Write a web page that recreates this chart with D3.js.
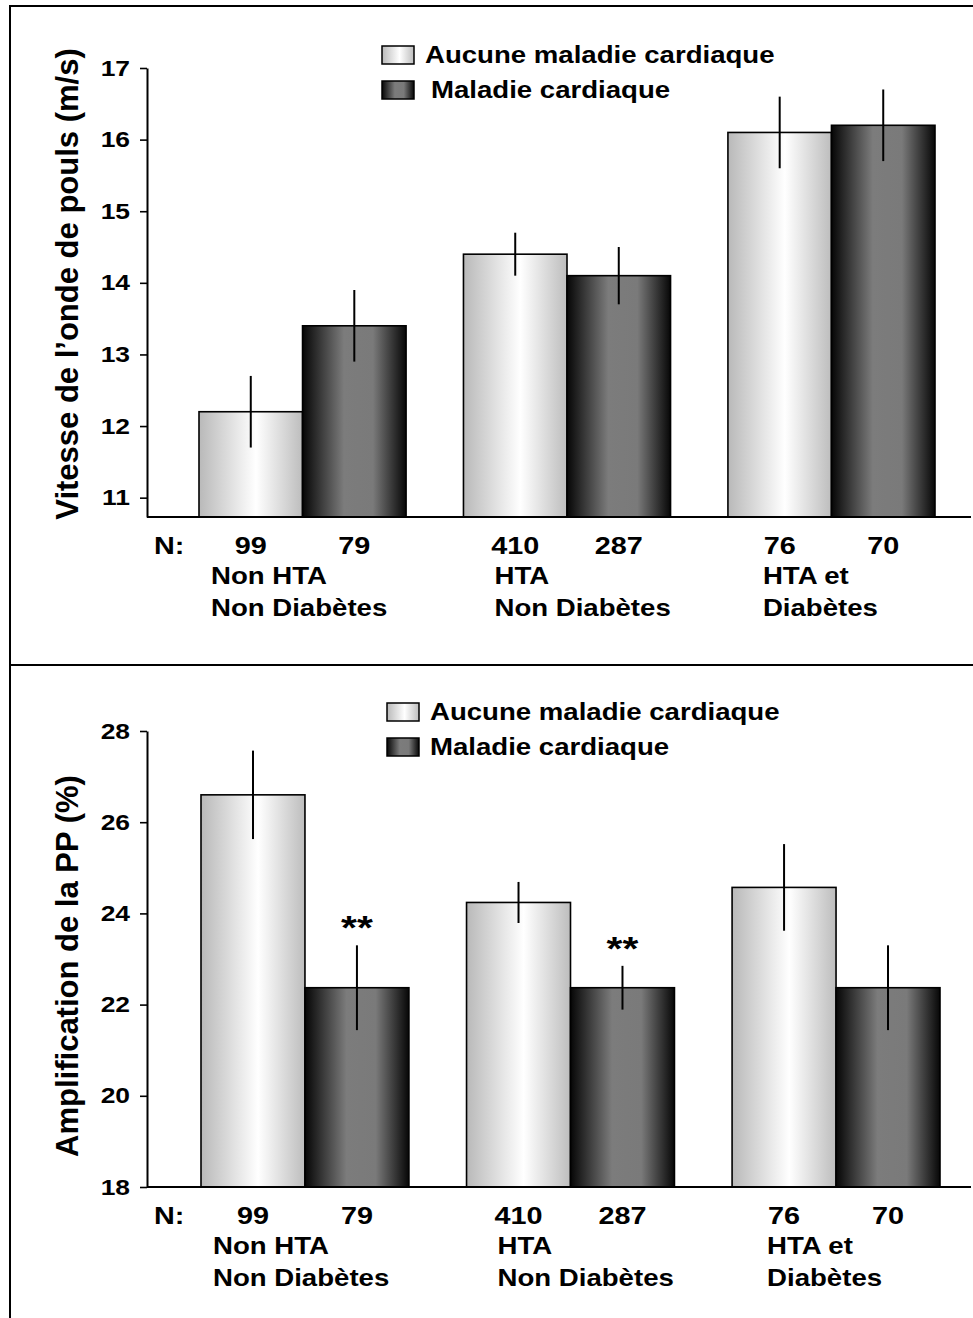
<!DOCTYPE html>
<html>
<head>
<meta charset="utf-8">
<script src="https://cdn.jsdelivr.net/npm/d3@7"></script>
<style>
body { margin: 0; background: #fff; }
svg text { font-family: "Liberation Sans", Arial, sans-serif; font-weight: bold; fill: #000; }
</style>
</head>
<body>
<div id="chart"></div>
<script>
// data
const groupLine1 = ["Non HTA", "HTA", "HTA et"];
const groupLine2 = ["Non Diabètes", "Non Diabètes", "Diabètes"];
const seriesNames = ["Aucune maladie cardiaque", "Maladie cardiaque"];
const nCounts = [[99, 79], [410, 287], [76, 70]];

const pwvMean = [[12.2, 13.4], [14.4, 14.1], [16.1, 16.2]];
const pwvErr = [[0.5, 0.5], [0.3, 0.4], [0.5, 0.5]];
const pwvTicks = [11, 12, 13, 14, 15, 16, 17];

const ppMean = [[26.6, 22.37], [24.24, 22.37], [24.57, 22.37]];
const ppErr = [[0.97, 0.93], [0.45, 0.48], [0.95, 0.93]];
const ppStars = [["", "**"], ["", "**"], ["", ""]];
const ppTicks = [18, 20, 22, 24, 26, 28];

const W = 973, H = 1318;
const SX = 1.2;          // glyphs in the picture are wider than Arial
const AXIS_X = 147;
const labelOffset = [12, 31, 35];

const svg = d3.select("#chart").append("svg")
	.attr("width", W)
	.attr("height", H);

const defs = svg.append("defs");

function gradient(id, stops) {
	const lg = defs.append("linearGradient").attr("id", id)
		.attr("x1", 0).attr("x2", 1).attr("y1", 0).attr("y2", 0);
	stops.forEach(function(s) {
		lg.append("stop").attr("offset", s[0]).attr("stop-color", s[1]);
	});
}
gradient("light", [["0%", "#b9b9b9"], ["55%", "#ffffff"], ["100%", "#bdbdbd"]]);
gradient("dark", [["0%", "#060606"], ["40%", "#7c7c7c"], ["68%", "#7a7a7a"], ["100%", "#070707"]]);
const fills = ["url(#light)", "url(#dark)"];

// frame
svg.append("line").attr("x1", 10).attr("x2", 10).attr("y1", 5).attr("y2", H)
	.attr("stroke", "#000").attr("stroke-width", 2);
svg.append("line").attr("x1", 9).attr("x2", W).attr("y1", 6).attr("y2", 6)
	.attr("stroke", "#000").attr("stroke-width", 2);
svg.append("line").attr("x1", 9).attr("x2", W).attr("y1", 665).attr("y2", 665)
	.attr("stroke", "#000").attr("stroke-width", 2);

function wideText(parent, str, x, y, size, anchor) {
	return parent.append("text")
		.attr("transform", "translate(" + x + "," + y + ") scale(" + SX + ",1)")
		.attr("font-size", size)
		.attr("text-anchor", anchor || "start")
		.text(str);
}

function drawPanel(p) {
	const g = svg.append("g");

	const y = d3.scaleLinear().domain(p.domain).range(p.yRange);
	const x = d3.scaleBand().domain(d3.range(groupLine1.length))
		.range(p.xRange).paddingInner(0.217).paddingOuter(0);
	const xs = d3.scaleBand().domain([0, 1]).range([0, x.bandwidth()]);
	const y0 = p.yRange[0];

	// bars
	p.mean.forEach(function(row, i) {
		row.forEach(function(v, j) {
			g.append("rect")
				.attr("x", x(i) + xs(j))
				.attr("y", y(v))
				.attr("width", xs.bandwidth())
				.attr("height", y0 - y(v))
				.attr("fill", fills[j])
				.attr("stroke", "#000")
				.attr("stroke-width", 1.6);
		});
	});

	// error bars and stars
	p.mean.forEach(function(row, i) {
		row.forEach(function(v, j) {
			const cx = x(i) + xs(j) + xs.bandwidth() / 2;
			const e = p.err[i][j];
			g.append("line")
				.attr("x1", cx).attr("x2", cx)
				.attr("y1", y(v + e)).attr("y2", y(v - e))
				.attr("stroke", "#000").attr("stroke-width", 2);
			if (p.stars && p.stars[i][j]) {
				wideText(g, p.stars[i][j], cx, y(v + e) - 6, 34, "middle")
					.attr("font-weight", "normal");
			}
		});
	});

	// axes
	const yAxis = d3.axisLeft(y).tickValues(p.ticks).tickSize(7).tickSizeOuter(0)
		.tickFormat(d3.format("d"));
	const ya = g.append("g").attr("transform", "translate(" + AXIS_X + ",0)").call(yAxis);
	ya.attr("font-family", null).attr("font-size", null);
	ya.select(".domain").attr("stroke-width", 2);
	ya.selectAll(".tick line").attr("stroke-width", 1.6);
	ya.selectAll(".tick text")
		.attr("x", null)
		.attr("font-size", 22)
		.attr("transform", "translate(-17,0) scale(" + SX + ",1)");

	g.append("line")
		.attr("x1", AXIS_X).attr("x2", 971)
		.attr("y1", y0).attr("y2", y0)
		.attr("stroke", "#000").attr("stroke-width", 2.2);

	// y title
	g.append("text")
		.attr("transform", "translate(78," + p.titleY + ") rotate(-90)")
		.attr("font-size", 31)
		.attr("text-anchor", "middle")
		.text(p.title);

	// N row and group labels
	wideText(g, "N:", 154, y0 + 37, 24);
	nCounts.forEach(function(row, i) {
		row.forEach(function(n, j) {
			wideText(g, n, x(i) + xs(j) + xs.bandwidth() / 2, y0 + 37, 24, "middle");
		});
		wideText(g, groupLine1[i], x(i) + labelOffset[i], y0 + 67, 23);
		wideText(g, groupLine2[i], x(i) + labelOffset[i], y0 + 99, 23);
	});

	// legend
	seriesNames.forEach(function(s, j) {
		const ly = p.legend[1] + j * 35;
		g.append("rect")
			.attr("x", p.legend[0]).attr("y", ly)
			.attr("width", 32).attr("height", 18)
			.attr("fill", fills[j])
			.attr("stroke", "#000").attr("stroke-width", 1.5);
		wideText(g, s, p.legend[0] + 43 + p.legendShift[j], ly + 17, 23);
	});
}

drawPanel({
	title: "Vitesse de l\u2019onde de pouls (m/s)",
	titleY: 284,
	mean: pwvMean, err: pwvErr, stars: null,
	domain: [10.73, 17], ticks: pwvTicks,
	yRange: [517, 68],
	xRange: [199, 935],
	legend: [382, 46], legendShift: [0, 6]
});

drawPanel({
	title: "Amplification de la PP  (%)",
	titleY: 966,
	mean: ppMean, err: ppErr, stars: ppStars,
	domain: [18, 28], ticks: ppTicks,
	yRange: [1187, 731],
	xRange: [201, 940],
	legend: [387, 703], legendShift: [0, 0]
});
</script>
</body>
</html>
